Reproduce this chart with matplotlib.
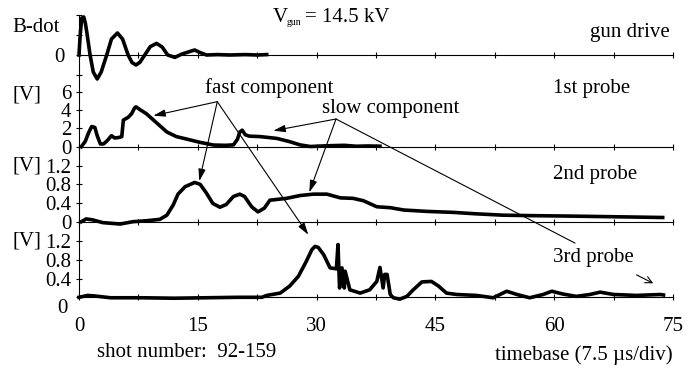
import matplotlib
matplotlib.use('Agg')
import matplotlib.pyplot as plt
from matplotlib.patches import ArrowStyle
import numpy as np

plt.rcParams['font.family'] = ['Liberation Serif', 'DejaVu Serif']
plt.rcParams['font.size'] = 15

# B-dot traces (time in divisions, value in V)
gun_t = [0, 0.15, 0.35, 0.6, 0.8, 1.0, 1.4, 1.8, 2.3, 2.8, 3.5, 4.1, 4.85, 5.5,
         6.2, 6.7, 7.2, 7.7, 8.3, 9.0, 9.8, 10.5, 11.2, 12.1, 13.0, 14.6, 15.3,
         16.1, 17.5, 19, 21, 22.5, 23.7]
gun_v = [0, 1.0, 1.85, 1.9, 1.6, 1.1, 0.0, -0.85, -1.2, -0.85, 0.0, 0.8, 1.1, 0.8,
         0.0, -0.38, -0.5, -0.36, 0.0, 0.42, 0.58, 0.4, 0.0, -0.12, 0.05, 0.25, 0.12,
         0.0, 0.02, 0.0, 0.02, 0.0, 0.02]

p1_t = [0.3, 0.8, 1.2, 1.6, 2.0, 2.3, 2.7, 3.1, 3.5, 4.1, 4.5, 5.0, 5.4, 5.6, 6.2,
        6.65, 7.0, 7.2, 7.6, 8.5, 9.8, 11.1, 12.3, 13.6, 15.3, 17.0, 18.5, 19.5,
        20.0, 20.3, 20.6, 21.0, 21.5, 22.9, 25.0, 26.6, 27.9, 29.2, 31.3, 33.5,
        35, 36.5, 38]
p1_v = [0, 0.6, 1.5, 2.2, 2.1, 1.2, 0.3, 0.3, 0.6, 1.2, 0.95, 1.0, 1.1, 2.9, 3.2,
        3.6, 4.2, 4.35, 4.1, 3.6, 2.6, 1.6, 1.1, 0.83, 0.47, 0.18, 0.15, 0.2,
        0.8, 1.6, 1.8, 1.3, 1.15, 1.1, 0.9, 0.55, 0.2, 0.02, 0.1, 0.15,
        0.05, 0.08, 0.05]

p2_t = [0.3, 0.9, 1.7, 3.0, 5.2, 6.8, 8.5, 10.2, 11.1, 11.9, 12.5, 13.4, 14.6,
        15.3, 16.1, 16.9, 17.8, 18.6, 19.5, 20.3, 20.9, 21.8, 22.6, 23.4, 24.1,
        26.2, 27.9, 29.6, 31.3, 33.0, 34.6, 35.9, 37.6, 39.3, 41, 44, 47.2, 50,
        53.5, 57, 62, 66, 70, 73.7]
p2_v = [0, 0.06, 0.04, -0.02, -0.05, 0, 0.02, 0.05, 0.14, 0.36, 0.59, 0.75, 0.84,
        0.8, 0.61, 0.39, 0.31, 0.37, 0.54, 0.59, 0.54, 0.32, 0.21, 0.29, 0.46,
        0.5, 0.56, 0.59, 0.59, 0.51, 0.5, 0.45, 0.32, 0.3, 0.25, 0.22, 0.2, 0.17,
        0.14, 0.13, 0.12, 0.11, 0.1, 0.09]

p3_t = [0, 1.1, 1.9, 4.0, 8, 12, 16, 20, 23.1, 23.7, 25.4, 26.6, 27.7, 28.7, 29.4,
        29.8, 30.2, 30.9, 31.7, 32.5, 32.7, 32.9, 33.2, 33.5, 33.6, 34.2, 35.5,
        36.7, 37.6, 38.0, 38.4, 38.6, 38.9, 39.3, 39.7, 40.5, 41.4, 42.2, 43.3,
        44.5, 45.4, 46.4, 47.7, 50.2, 52.3, 54.0, 55.3, 56.9, 58.6, 59.7, 61.1,
        62.8, 64.5, 65.8, 67.5, 70.4, 73.4, 73.8]
p3_v = [0, 0.04, 0.03, -0.01, -0.01, -0.02, -0.01, 0, 0.0, 0.04, 0.09, 0.24, 0.45,
        0.77, 1.02, 1.09, 1.07, 0.91, 0.63, 0.61, 1.13, 0.2, 0.63, 0.2, 0.56, 0.16,
        0.09, 0.16, 0.34, 0.64, 0.2, 0.49, 0.49, 0.06, -0.01, -0.04, 0.02, 0.16,
        0.33, 0.34, 0.24, 0.09, 0.06, 0.04, -0.01, 0.13, 0.06, -0.01, 0.06, 0.13,
        0.07, 0.02, 0.06, 0.11, 0.06, 0.04, 0.06, 0.05]

x_ticks = np.arange(0, 76, 7.5)
x_labels = ['0', '', '15', '', '30', '', '45', '', '60', '', '75']

W, H = 690, 369
fig = plt.figure(figsize=(W / 100, H / 100), dpi=100)
X0, X1 = 79, 673


def panel(top, bot, zero, ppu, yticks, ylabels):
    ax = fig.add_axes([X0 / W, 1 - bot / H, (X1 - X0) / W, (bot - top) / H])
    ax.set_xlim(0, 75)
    ax.set_ylim(-(bot - zero) / ppu, (zero - top) / ppu)
    ax.patch.set_visible(False)
    for s in ['top', 'right']:
        ax.spines[s].set_visible(False)
    ax.spines['bottom'].set_position(('data', 0))
    for s in ['bottom', 'left']:
        ax.spines[s].set_linewidth(0.8)
    ax.set_xticks(x_ticks)
    ax.set_xticklabels([])
    ax.set_yticks(yticks)
    ax.set_yticklabels(ylabels)
    ax.tick_params(direction='inout', length=5, width=0.8, pad=3)
    return ax


ax0 = panel(15, 85, 55, 20, [-1, 0, 1, 2], ['', '0', '', ''])
ax0.tick_params(axis='y', pad=8)
ax1 = panel(85, 150, 146.7, 9.17, [0, 2, 4, 6], ['0', '2', '4', '6'])
ax2 = panel(150, 225, 221.7, 46.7, [0, 0.4, 0.8, 1.2], ['0', '0.4', '0.8', '1.2'])
ax3 = panel(225, 298, 297.3, 46.7, [0, 0.4, 0.8, 1.2], ['', '0.4', '0.8', '1.2'])
ax3.set_xticklabels(x_labels)
ax3.tick_params(axis='x', pad=12)
ax3.spines['left'].set_bounds(0, 1.54)
ax3.annotate('0', xy=(0, 0), xytext=(-8.5, -8), textcoords='offset points',
             ha='right', va='center', annotation_clip=False)

for ax, t, v in [(ax0, gun_t, gun_v), (ax1, p1_t, p1_v), (ax2, p2_t, p2_v), (ax3, p3_t, p3_v)]:
    ax.plot(t, v, color='k', lw=2.6, clip_on=False, solid_joinstyle='round')

# axis words on the left
ax0.text(-8.4, 1.4, 'B-dot', ha='left', va='center')
for ax, y in [(ax1, 5.6), (ax2, 1.2), (ax3, 1.2)]:
    ax.text(-8.4, y, '[V]', ha='left', va='center')

# gun voltage, with the small subscript
ax0.text(24.5, 1.9, 'V', ha='left', va='center')
ax0.annotate('gun', xy=(24.5, 1.9), xytext=(10, -4), textcoords='offset points',
             ha='left', va='center', fontsize=7)
ax0.annotate('= 14.5 kV', xy=(24.5, 1.9), xytext=(23, 0), textcoords='offset points',
             ha='left', va='center')

ax0.text(74.6, 1.15, 'gun drive', ha='right', va='center')
ax1.text(59.8, 6.4, '1st probe', ha='left', va='center')
ax2.text(59.8, 1.0, '2nd probe', ha='left', va='center')
ax3.text(59.8, 0.86, '3rd probe', ha='left', va='center')
ax1.text(24.0, 6.4, 'fast component', ha='center', va='center')
ax1.text(39.4, 4.2, 'slow component', ha='center', va='center')
ax3.text(2.3, -1.19, 'shot number:  92-159', ha='left', va='center')
ax3.text(74.9, -1.23, 'timebase (7.5 \u00b5s/div)', ha='right', va='center')

head = ArrowStyle('-|>', head_length=0.6, head_width=0.18)


def pointer(src, ax_to, dst, style=head):
    ax1.annotate('', xy=dst, xycoords=ax_to.transData, xytext=src,
                 textcoords=ax1.transData, annotation_clip=False,
                 arrowprops=dict(arrowstyle=style, color='k', lw=0.8,
                                 shrinkA=0, shrinkB=0, mutation_scale=12))


fast_apex = (17.46, 4.91)
slow_apex = (32.45, 3.02)
pointer(fast_apex, ax1, (9.38, 3.38))
pointer(fast_apex, ax2, (15.19, 0.87))
pointer(fast_apex, ax3, (28.95, 1.34))
pointer(slow_apex, ax1, (24.53, 1.74))
pointer(slow_apex, ax2, (29.08, 0.63))
pointer(slow_apex, ax3, (62.63, 1.16), style='-')

ax3.annotate('', xy=(72.5, 0.3), xytext=(70.4, 0.48),
             arrowprops=dict(arrowstyle='->', color='k', lw=0.8,
                             shrinkA=0, shrinkB=0, mutation_scale=12))

fig.savefig('out.png', dpi=100)
